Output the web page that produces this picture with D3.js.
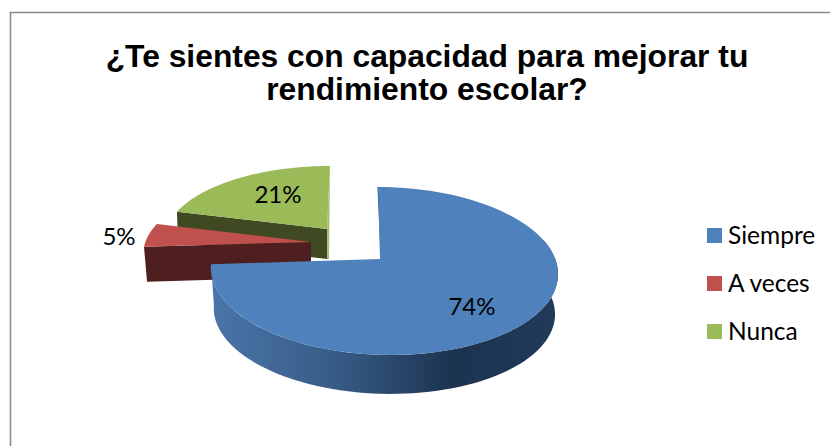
<!DOCTYPE html>
<html><head><meta charset="utf-8">
<script src="https://cdn.jsdelivr.net/npm/d3@7"></script>
<style>html,body{margin:0;padding:0;background:#fff}svg{display:block}</style>
</head><body><div id="c"></div>
<script>
const categories = ["Siempre", "A veces", "Nunca"];
const values = [74, 5, 21];
const titleLines = ["¿Te sientes con capacidad para mejorar tu", "rendimiento escolar?"];
const topColors = ["#4f81bd", "#c0504d", "#9bbb59"];
const wallColors = ["url(#blueWall)", "#4f1f1f", "#3f4a22"];

const W = 830, H = 446;
const svg = d3.select("#c").append("svg").attr("width", W).attr("height", H);
const color = d3.scaleOrdinal(categories, topColors);

const defs = svg.append("defs");
const grad = defs.append("linearGradient").attr("id", "blueWall")
  .attr("gradientUnits", "userSpaceOnUse").attr("x1", 212).attr("x2", 557).attr("y1", 0).attr("y2", 0);
[[0, "#4a75a9"], [0.35, "#385c87"], [0.7, "#1c3350"], [1, "#213a5a"]].forEach(s =>
  grad.append("stop").attr("offset", s[0]).attr("stop-color", s[1]));

// frame
svg.append("path").attr("d", `M10.5 ${H}V12.5H${W}`).attr("fill", "none").attr("stroke", "#8b8b8b").attr("stroke-width", 1.6);

// title
svg.append("g").selectAll("text").data(titleLines).join("text")
  .attr("x", 427).attr("y", (d, i) => 66.5 + i * 33)
  .attr("text-anchor", "middle").attr("font-family", "'Liberation Sans', Arial, sans-serif")
  .attr("font-weight", 700).attr("font-size", 31.8).attr("fill", "#000").text(d => d);

// pie angles
const pie = d3.pie().sort(null).value(d => d)(values);
const k = 1 / 7;
// per-slice perspective frames
const frames = [
  {ax: 380, ay: 259, cx: 383.5, bx: 171.7, by: 82.3, sh: -6.3, depth: 40.5, shrink: 0.983},
  {ax: 311, ay: 242, cx: 311,   bx: 165.6, by: 75,   sh: 3.3,  depth: 35,   shrink: 0.985},
  {ax: 327, ay: 229, cx: 330,   bx: 163.6, by: 72,   sh: 0,    depth: 30,   shrink: 1}
];
const rim = (f, a, s = 1, dy = 0) => {
  const u = Math.sin(a), v = Math.cos(a), w = 1 + k * v;
  return [f.cx + s * (f.bx * u + f.sh * v) / w, f.ay + dy - s * f.by * v / w];
};
const line = d3.line();
const sample = (a0, a1, n = 80) => d3.range(n + 1).map(i => a0 + (a1 - a0) * i / n);

const g = svg.append("g");
const drawOrder = [2, 1, 0];
drawOrder.forEach(i => {
  const p = pie[i], f = frames[i];
  if (i === 0) {
    // outer curved wall
    const ang = sample(Math.PI * 0.42, p.endAngle);
    const pts = ang.map(a => rim(f, a)).concat(ang.slice().reverse().map(a => rim(f, a, f.shrink, f.depth)));
    g.append("path").attr("d", line(pts) + "Z").attr("fill", wallColors[0]);
    // small inner edge on the open side
    g.append("path").attr("d", line([rim(f, 0), [f.ax + 1.6, f.ay + 1]]))
      .attr("fill", "none").attr("stroke", "#2f5378").attr("stroke-width", 1.2);
  } else {
    // flat cut face, seen from the front
    const c = rim(f, p.startAngle);
    const cut = [c, [f.ax, f.ay], [f.ax, f.ay + f.depth], [c[0] + (i === 1 ? 3 : 1), c[1] + f.depth]];
    g.append("path").attr("d", line(cut) + "Z").attr("fill", wallColors[i]);
    if (i === 2) {
      const t = rim(f, p.endAngle);
      g.append("path").attr("d", line([t, [t[0] - 1, f.ay + f.depth], [f.ax, f.ay + f.depth], [f.ax, f.ay]]) + "Z")
        .attr("fill", "#a9bc76");
    }
  }
  const topPts = [[f.ax, f.ay]].concat(sample(p.startAngle, p.endAngle).map(a => rim(f, a)));
  g.append("path").attr("d", line(topPts) + "Z").attr("fill", color(categories[i]));
});

// data labels
const labelPos = [[472, 315], [119, 245], [278, 203]];
svg.append("g").selectAll("text").data(values).join("text")
  .attr("x", (d, i) => labelPos[i][0]).attr("y", (d, i) => labelPos[i][1])
  .attr("text-anchor", "middle").attr("font-family", "Lato, sans-serif")
  .attr("font-size", 24).attr("fill", "#000").text(d => d + "%");

// legend
const legendY = d3.scalePoint(categories, [228, 324]);
const leg = svg.append("g").selectAll("g").data(categories).join("g")
  .attr("transform", d => `translate(707,${legendY(d)})`);
leg.append("rect").attr("width", 15).attr("height", 15).attr("fill", d => color(d));
leg.append("text").attr("x", 21).attr("y", 15.5).attr("font-family", "Lato, sans-serif")
  .attr("font-size", 24.5).attr("fill", "#000").text(d => d);
</script></body></html>
